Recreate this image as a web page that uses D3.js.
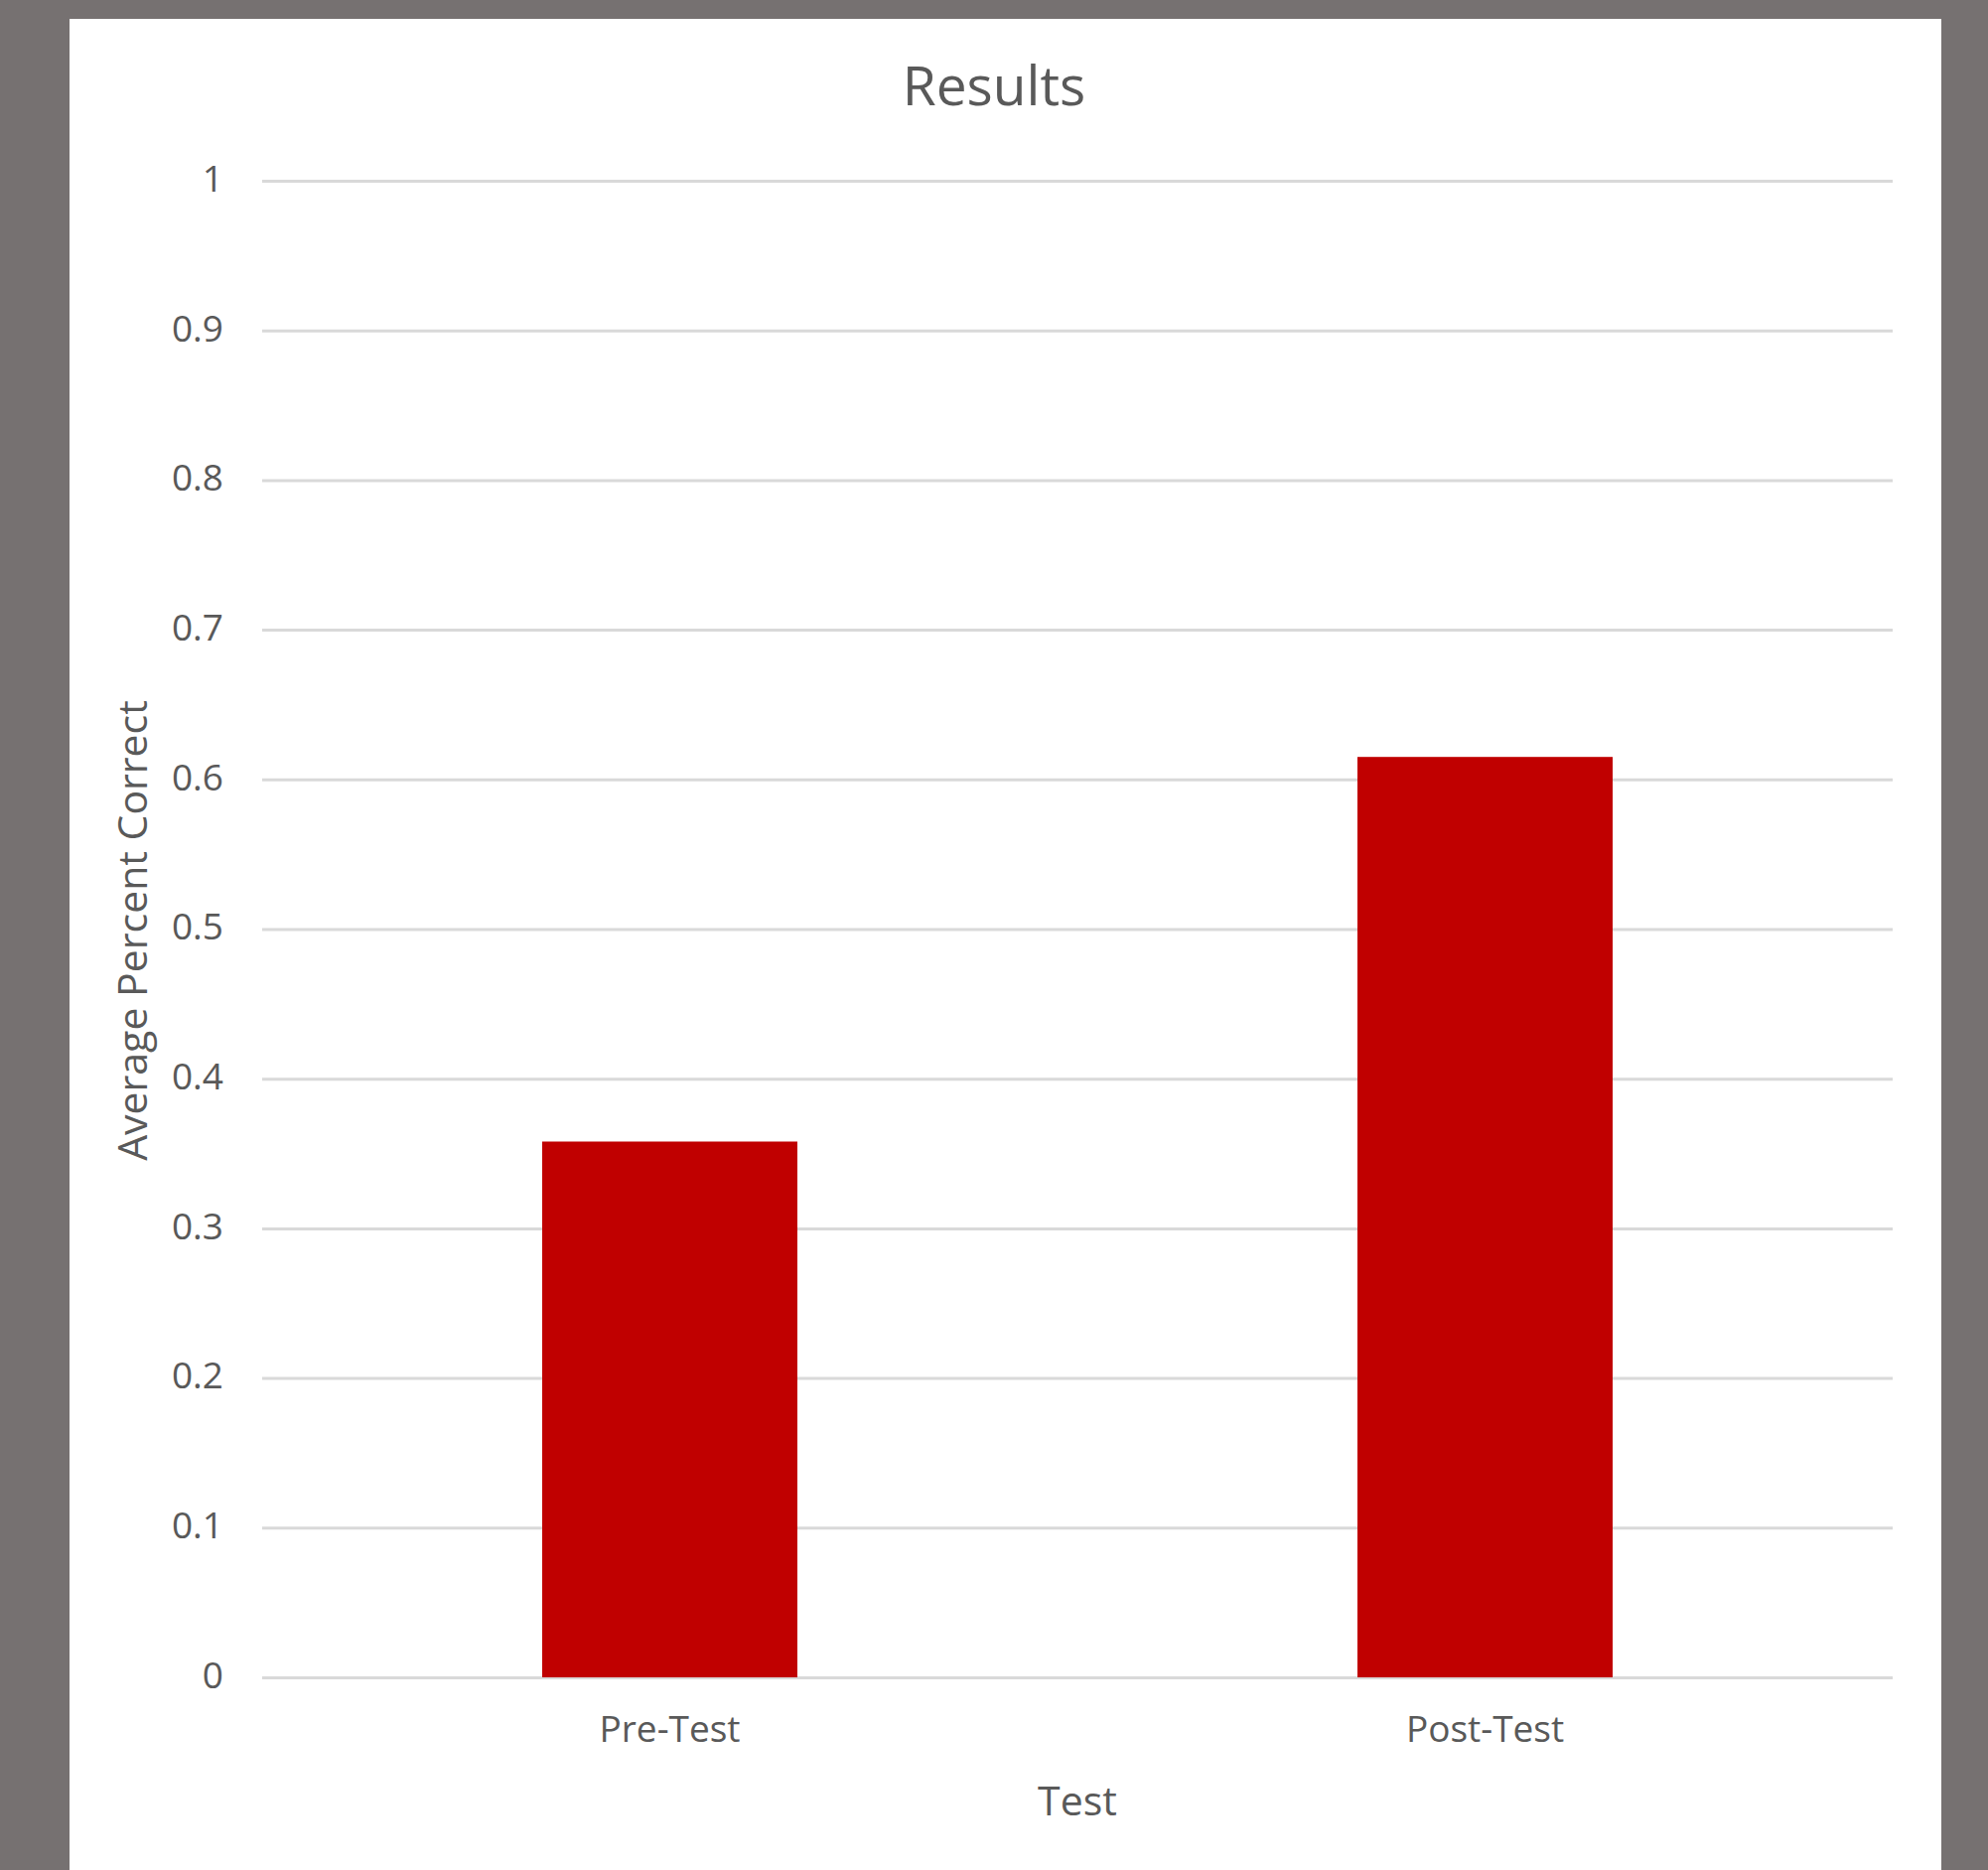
<!DOCTYPE html>
<html><head><meta charset="utf-8">
<script src="https://cdn.jsdelivr.net/npm/d3@7"></script>
<style>html,body{margin:0;padding:0;background:#767171;overflow:hidden}</style>
</head><body>
<svg id="chart" width="2002" height="1883"></svg>
<script>
const categories = ["Pre-Test", "Post-Test"];
const values = [0.358, 0.615];
const yTicks = [0, 0.1, 0.2, 0.3, 0.4, 0.5, 0.6, 0.7, 0.8, 0.9, 1];
const yTickLabels = ["0", "0.1", "0.2", "0.3", "0.4", "0.5", "0.6", "0.7", "0.8", "0.9", "1"];
const chartTitle = "Results";
const xTitle = "Test";
const yTitle = "Average Percent Correct";

const W = 2002, H = 1883;
const plot = {left: 264, right: 1906, top: 182, bottom: 1689};
const textColor = "#595959";
const font = "'Open Sans', 'Noto Sans', sans-serif";

const svg = d3.select("#chart");
svg.append("rect").attr("x", 0).attr("y", 0).attr("width", W).attr("height", H).attr("fill", "#767171");
svg.append("rect").attr("x", 70).attr("y", 19).attr("width", 1885).attr("height", H).attr("fill", "#ffffff");

const x = d3.scaleBand().domain(categories).range([plot.left, plot.right])
  .paddingInner(0.687).paddingOuter(0.3435);
const y = d3.scaleLinear().domain([0, 1]).range([plot.bottom, plot.top]);

// gridlines + y tick labels
const yAxis = d3.axisLeft(y).tickValues(yTicks)
  .tickFormat((d, i) => yTickLabels[i])
  .tickSize(-(plot.right - plot.left)).tickPadding(39);
const gy = svg.append("g").attr("transform", `translate(${plot.left},0)`).call(yAxis);
gy.select(".domain").remove();
gy.selectAll(".tick line").attr("stroke", "#d9d9d9").attr("stroke-width", 3);
gy.selectAll(".tick text").attr("fill", textColor).attr("font-family", font)
  .attr("font-size", 37).attr("dy", "0.28em");

// bars
svg.append("g").selectAll("rect").data(categories).join("rect")
  .attr("x", d => x(d))
  .attr("y", (d, i) => y(values[i]))
  .attr("width", x.bandwidth())
  .attr("height", (d, i) => y(0) - y(values[i]))
  .attr("fill", "#c00000");

// x axis labels
const xAxis = d3.axisBottom(x).tickSize(0).tickPadding(39);
const gx = svg.append("g").attr("transform", `translate(0,${plot.bottom})`).call(xAxis);
gx.select(".domain").remove();
gx.selectAll(".tick text").attr("fill", textColor).attr("font-family", font).attr("font-size", 37);

// titles
svg.append("text").attr("x", 1001).attr("y", 106).attr("text-anchor", "middle")
  .attr("fill", textColor).attr("font-family", font).attr("font-size", 55).text(chartTitle);
svg.append("text").attr("x", 1085).attr("y", 1828).attr("text-anchor", "middle")
  .attr("fill", textColor).attr("font-family", font).attr("font-size", 41).text(xTitle);
svg.append("text").attr("transform", "translate(148,937) rotate(-90)").attr("text-anchor", "middle")
  .attr("fill", textColor).attr("font-family", font).attr("font-size", 41).text(yTitle);
</script>
</body></html>
